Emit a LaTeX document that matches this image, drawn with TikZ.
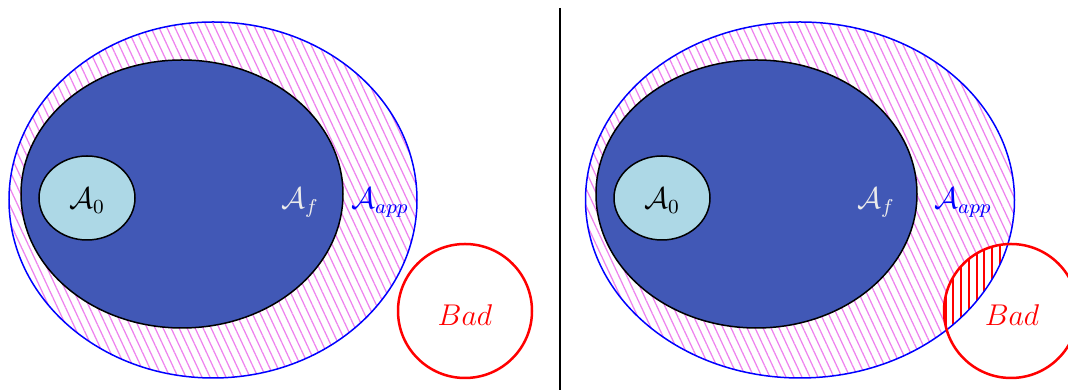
\documentclass[tikz,border=0pt]{standalone}
\usetikzlibrary{patterns.meta}
\definecolor{darkfill}{RGB}{65,88,182}
\definecolor{lightfill}{RGB}{173,216,230}
\definecolor{hatchviolet}{RGB}{238,130,238}
\tikzset{
  outerset/.style={draw=blue, line width=0.6pt,
    pattern={Lines[angle=-65,distance=2.9pt,line width=0.5pt]}, pattern color=hatchviolet},
  finalset/.style={draw=black, line width=0.6pt, fill=darkfill},
  initset/.style={draw=black, line width=0.6pt, fill=lightfill},
  badset/.style={draw=red, line width=1pt},
  badhatch/.style={pattern={Lines[angle=90,distance=3.1pt,line width=0.8pt]}, pattern color=red},
  lbl/.style={anchor=base, inner sep=0pt, font=\large},
}
\begin{document}
\begin{tikzpicture}[x=0.4pt, y=-0.4pt]
\useasboundingbox (0,0) rectangle (1068,390);
\clip (0,0) rectangle (1068,390);

% ---------- left panel ----------
\path[outerset] (213,200) ellipse [x radius=204, y radius=178];
\path[finalset] (182,194) ellipse [x radius=161, y radius=134];
\path[initset] (87,198) ellipse [x radius=48, y radius=42];
\node[lbl] (a0L) at (87,209) {$\mathcal{A}_0$};
\node[lbl, text=white!92!black] (afL) at (300,209) {$\mathcal{A}_f$};
\node[lbl, text=blue] (aappL) at (380,209) {$\mathcal{A}_{app}$};
\path[badset] (465,311) circle [radius=67];
\node[inner sep=0pt, text=red, font=\large] (badL) at (465,315) {$Bad$};

% ---------- divider ----------
\coordinate (divtop) at (560,8);
\coordinate (divbot) at (560,390);
\draw[line width=0.45pt] (divtop) -- (divbot);

% ---------- right panel ----------
\path[outerset, draw=none] (800,200) ellipse [x radius=214.5, y radius=178];
\begin{scope}
  \clip (800,200) ellipse [x radius=214.5, y radius=178];
  \fill[white] (1011,311) circle [radius=67];
  \fill[badhatch] (1011,311) circle [radius=67];
\end{scope}
\draw[blue, line width=0.6pt] (800,200) ellipse [x radius=214.5, y radius=178];
\path[finalset] (756.5,194) ellipse [x radius=160.5, y radius=134];
\path[initset] (662,198) ellipse [x radius=48, y radius=42];
\node[lbl] (a0R) at (662,209) {$\mathcal{A}_0$};
\node[lbl, text=white!92!black] (afR) at (876,209) {$\mathcal{A}_f$};
\node[lbl, text=blue] (aappR) at (963,209) {$\mathcal{A}_{app}$};
\path[badset] (1011,311) circle [radius=67];
\node[inner sep=0pt, text=red, font=\large] (badR) at (1012,315) {$Bad$};
\end{tikzpicture}
\end{document}
